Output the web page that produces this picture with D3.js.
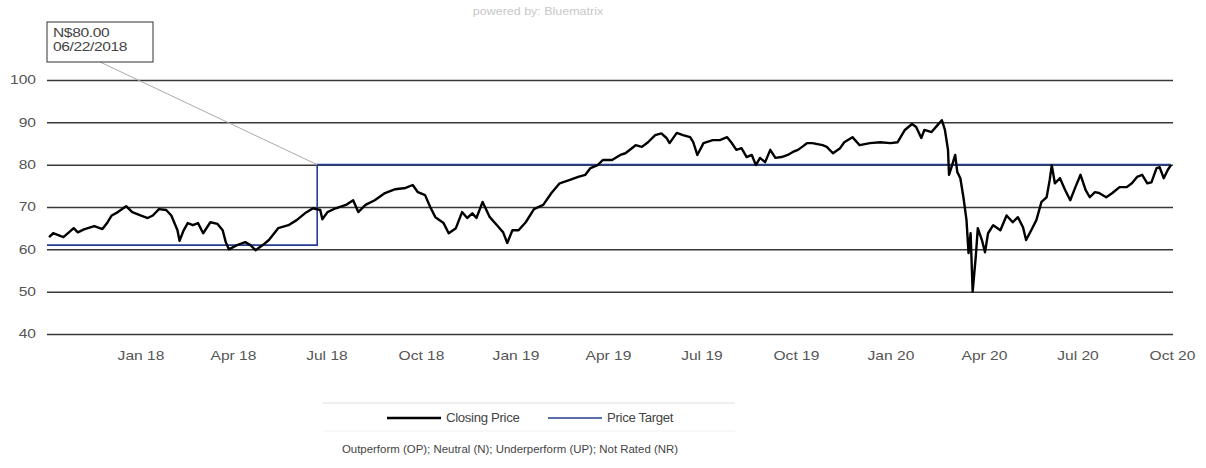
<!DOCTYPE html>
<html>
<head>
<meta charset="utf-8">
<script src="https://cdn.jsdelivr.net/npm/d3@7"></script>
<style>
    html, body { margin: 0; padding: 0; background: #fff; }
    #chart { width: 1206px; height: 468px; }
    text { font-family: "Liberation Sans", Arial, sans-serif; }
</style>
</head>
<body>
<div id="chart"></div>
<script>
// Closing price (date, price)
const closeDates = [
    '2017-10-04', '2017-10-08', '2017-10-18', '2017-10-28', '2017-11-01', '2017-11-07', '2017-11-17',
    '2017-11-25', '2017-11-30', '2017-12-04', '2017-12-10', '2017-12-18', '2017-12-24', '2018-01-01',
    '2018-01-08', '2018-01-13', '2018-01-19', '2018-01-26', '2018-01-31', '2018-02-06', '2018-02-08',
    '2018-02-12', '2018-02-16', '2018-02-21', '2018-02-26', '2018-03-03', '2018-03-10', '2018-03-17',
    '2018-03-22', '2018-03-25', '2018-03-28', '2018-04-05', '2018-04-13', '2018-04-18', '2018-04-23',
    '2018-04-30', '2018-05-06', '2018-05-15', '2018-05-25', '2018-06-02', '2018-06-10', '2018-06-18',
    '2018-06-25', '2018-06-27', '2018-07-02', '2018-07-10', '2018-07-20', '2018-07-27', '2018-08-01',
    '2018-08-08', '2018-08-17', '2018-08-27', '2018-09-06', '2018-09-16', '2018-09-23', '2018-09-28',
    '2018-10-05', '2018-10-10', '2018-10-15', '2018-10-23', '2018-10-28', '2018-11-04', '2018-11-10',
    '2018-11-15', '2018-11-20', '2018-11-24', '2018-11-30', '2018-12-07', '2018-12-14', '2018-12-20',
    '2018-12-24', '2018-12-29', '2019-01-04', '2019-01-11', '2019-01-19', '2019-01-28', '2019-02-05',
    '2019-02-13', '2019-02-23', '2019-03-03', '2019-03-10', '2019-03-15', '2019-03-22', '2019-03-27',
    '2019-04-05', '2019-04-13', '2019-04-18', '2019-04-28', '2019-05-04', '2019-05-10', '2019-05-17',
    '2019-05-23', '2019-05-28', '2019-05-31', '2019-06-07', '2019-06-13', '2019-06-20', '2019-06-23',
    '2019-06-27', '2019-07-03', '2019-07-12', '2019-07-19', '2019-07-26', '2019-07-30', '2019-08-04',
    '2019-08-09', '2019-08-14', '2019-08-19', '2019-08-23', '2019-08-27', '2019-09-01', '2019-09-06',
    '2019-09-11', '2019-09-17', '2019-09-23', '2019-09-28', '2019-10-03', '2019-10-07', '2019-10-12',
    '2019-10-17', '2019-10-27', '2019-10-31', '2019-11-06', '2019-11-13', '2019-11-17', '2019-11-25',
    '2019-12-02', '2019-12-12', '2019-12-22', '2020-01-01', '2020-01-08', '2020-01-15', '2020-01-22',
    '2020-01-26', '2020-01-31', '2020-02-03', '2020-02-10', '2020-02-16', '2020-02-20', '2020-02-23',
    '2020-02-26', '2020-02-27', '2020-03-01', '2020-03-04', '2020-03-06', '2020-03-09', '2020-03-12',
    '2020-03-15', '2020-03-17', '2020-03-19', '2020-03-21', '2020-03-24', '2020-03-26', '2020-03-30',
    '2020-04-02', '2020-04-05', '2020-04-10', '2020-04-17', '2020-04-23', '2020-04-29', '2020-05-04',
    '2020-05-09', '2020-05-12', '2020-05-17', '2020-05-22', '2020-05-27', '2020-06-01', '2020-06-04',
    '2020-06-06', '2020-06-09', '2020-06-14', '2020-06-19', '2020-06-24', '2020-06-29', '2020-07-04',
    '2020-07-09', '2020-07-13', '2020-07-18', '2020-07-22', '2020-07-29', '2020-08-04', '2020-08-11',
    '2020-08-18', '2020-08-23', '2020-08-28', '2020-09-02', '2020-09-07', '2020-09-11', '2020-09-16',
    '2020-09-19', '2020-09-23', '2020-09-27', '2020-09-30'
];
const closeValues = [
    62.9, 63.8, 62.9, 65.0, 64.0, 64.7, 65.5,
    64.8, 66.4, 68.0, 68.8, 70.2, 68.8, 68.0,
    67.4, 68.0, 69.5, 69.3, 68.0, 64.5, 62.0,
    64.5, 66.2, 65.7, 66.2, 63.8, 66.4, 66.0,
    64.5, 61.7, 60.0, 61.0, 61.7, 61.0, 59.8,
    61.0, 62.2, 65.0, 65.7, 66.9, 68.5, 69.7,
    69.3, 67.1, 68.8, 69.7, 70.5, 71.6, 68.8,
    70.5, 71.6, 73.3, 74.2, 74.5, 75.2, 73.5,
    72.8, 70.0, 67.6, 66.2, 63.8, 65.0, 68.8,
    67.4, 68.5, 67.4, 71.2, 67.6, 65.7, 64.0,
    61.5, 64.5, 64.5, 66.4, 69.5, 70.5, 73.3,
    75.6, 76.4, 77.1, 77.6, 79.2, 79.9, 81.1,
    81.1, 82.3, 82.7, 84.6, 84.2, 85.3, 87.0,
    87.4, 86.3, 85.1, 87.5, 87.0, 86.5, 85.3,
    82.3, 85.1, 85.8, 85.8, 86.5, 85.3, 83.5,
    83.9, 81.8, 82.3, 79.9, 81.6, 80.6, 83.5,
    81.6, 81.8, 82.3, 83.0, 83.5, 84.2, 85.1,
    85.1, 84.6, 84.2, 82.7, 83.9, 85.3, 86.5,
    84.6, 85.1, 85.3, 85.1, 85.3, 88.2, 89.6,
    88.9, 86.3, 88.2, 87.7, 89.4, 90.5, 88.2,
    83.5, 77.6, 79.9, 82.3, 78.3, 76.8, 72.3,
    66.9, 59.1, 63.8, 50.0, 58.2, 65.0, 62.2,
    59.3, 63.8, 65.7, 64.5, 68.0, 66.4, 67.6,
    65.2, 62.2, 64.5, 66.9, 71.2, 72.3, 76.4,
    79.9, 75.6, 76.8, 74.0, 71.6, 74.7, 77.6,
    74.0, 72.3, 73.5, 73.3, 72.3, 73.3, 74.7,
    74.7, 75.6, 77.1, 77.6, 75.6, 75.8, 79.2,
    79.4, 76.8, 78.8, 79.9
];

// Price target steps
const targetDates = ['2017-10-02', '2018-06-22', '2020-09-30'];
const targetValues = [61, 80, 80];

// Axes
const xDomain = ['2017-10-02', '2020-10-02'];
const xTicks = ['2018-01-01', '2018-04-01', '2018-07-01', '2018-10-01', '2019-01-01', '2019-04-01',
    '2019-07-01', '2019-10-01', '2020-01-01', '2020-04-01', '2020-07-01', '2020-10-01'];
const yTicks = [40, 50, 60, 70, 80, 90, 100];

// Labels
const annotationLines = ['N$80.00', '06/22/2018'];
const legendItems = ['Closing Price', 'Price Target'];
const footerText = 'Outperform (OP); Neutral (N); Underperform (UP); Not Rated (NR)';
const poweredBy = 'powered by: Bluematrix';

// axis text in the picture is drawn wide, so stretch it sideways
const SX = 1.3;

class PriceChart {
    constructor(container, margin) {
        this.margin = margin; // top, right, bottom, left
        this.width = 1206;
        this.height = 468;

        this.svg = d3.select(container)
            .append('svg')
            .attr('width', this.width)
            .attr('height', this.height);

        this.chart = this.svg.append('g')
            .attr('transform', `translate(${margin[3]}, ${margin[0]})`);
    }

    render() {
        const parse = d3.timeParse('%Y-%m-%d');
        const innerW = this.width - this.margin[1] - this.margin[3];
        const innerH = 334 - this.margin[0];

        const x = d3.scaleTime()
            .domain(xDomain.map(parse))
            .range([0, innerW]);
        const y = d3.scaleLinear()
            .domain([40, 100])
            .range([innerH, 0]);

        // Grid + y labels
        const yAxis = this.chart.append('g')
            .style('color', '#555')
            .call(d3.axisLeft(y).tickValues(yTicks).tickSize(-innerW).tickPadding(8.5));
        yAxis.select('.domain').remove();
        yAxis.selectAll('line').attr('stroke', '#383838').attr('stroke-width', 1.5);
        yAxis.selectAll('text')
            .style('font-family', '"Liberation Sans", Arial, sans-serif')
            .style('font-size', '12px')
            .attr('fill', '#555')
            .attr('transform', `scale(${SX},1)`);

        // x labels
        const xAxis = this.chart.append('g')
            .style('color', '#555')
            .attr('transform', `translate(0, ${innerH})`)
            .call(d3.axisBottom(x)
                .tickValues(xTicks.map(parse))
                .tickFormat(d3.timeFormat('%b %y'))
                .tickSize(0)
                .tickPadding(17));
        xAxis.select('.domain').remove();
        xAxis.selectAll('text')
            .style('font-family', '"Liberation Sans", Arial, sans-serif')
            .style('font-size', '12px')
            .attr('fill', '#555')
            .attr('transform', `scale(${SX},1)`);

        // Price target
        const target = targetDates.map((d, i) => ({ d: parse(d), v: targetValues[i] }));
        this.chart.append('path')
            .datum(target)
            .attr('fill', 'none')
            .attr('stroke', '#25408f')
            .attr('stroke-width', 1.6)
            .attr('d', d3.line().curve(d3.curveStepAfter).x(d => x(d.d)).y(d => y(d.v)));

        // Closing price
        const close = closeDates.map((d, i) => ({ d: parse(d), v: closeValues[i] }));
        this.chart.append('path')
            .datum(close)
            .attr('fill', 'none')
            .attr('stroke', '#000')
            .attr('stroke-width', 2.4)
            .attr('stroke-linejoin', 'round')
            .attr('d', d3.line().x(d => x(d.d)).y(d => y(d.v)));

        // Annotation box + leader line
        const tx = x(target[1].d);
        const ty = y(target[1].v);
        const ax = 0, ay = 22 - this.margin[0];
        this.chart.append('line')
            .attr('x1', 53).attr('y1', ay + 40)
            .attr('x2', tx).attr('y2', ty)
            .attr('stroke', '#aaa').attr('stroke-width', 1);
        this.chart.append('rect')
            .attr('x', ax).attr('y', ay)
            .attr('width', 106).attr('height', 40)
            .attr('fill', '#fff')
            .attr('stroke', '#333').attr('stroke-width', 1);
        this.chart.selectAll('.ann')
            .data(annotationLines)
            .join('text')
            .attr('class', 'ann')
            .attr('transform', (d, i) => `translate(${ax + 6}, ${ay + 15 + i * 14}) scale(1.3,1)`)
            .style('font-size', '12px')
            .style('letter-spacing', '-0.3px')
            .attr('fill', '#444')
            .text(d => d);

        this.#legend();
    }

    #legend() {
        const colors = ['#000', '#25408f'];
        const starts = [387, 548];

        this.svg.append('text')
            .attr('transform', 'translate(538, 15) scale(1.25,1)')
            .attr('text-anchor', 'middle')
            .style('font-size', '10px')
            .attr('fill', '#c8c8c8')
            .text(poweredBy);

        this.svg.append('line')
            .attr('x1', 323).attr('x2', 735).attr('y1', 403).attr('y2', 403)
            .attr('stroke', '#e0e0e0');
        this.svg.append('line')
            .attr('x1', 323).attr('x2', 735).attr('y1', 431).attr('y2', 431)
            .attr('stroke', '#f1f1f1');

        const item = this.svg.selectAll('.legend')
            .data(legendItems)
            .join('g')
            .attr('class', 'legend')
            .attr('transform', (d, i) => `translate(${starts[i]}, 418)`);
        item.append('line')
            .attr('x1', 0).attr('x2', 54)
            .attr('stroke', (d, i) => colors[i])
            .attr('stroke-width', (d, i) => i === 0 ? 2.4 : 1.6);
        item.append('text')
            .attr('transform', 'translate(59, 4) scale(1.1,1)')
            .style('font-size', '12px')
            .style('letter-spacing', '-0.3px')
            .attr('fill', '#444')
            .text(d => d);

        this.svg.append('text')
            .attr('transform', 'translate(510, 453) scale(1.04,1)')
            .attr('text-anchor', 'middle')
            .style('font-size', '11px')
            .attr('fill', '#444')
            .text(footerText);
    }
}

const chart = new PriceChart('#chart', [80, 33, 134, 47]);
chart.render();
</script>
</body>
</html>
